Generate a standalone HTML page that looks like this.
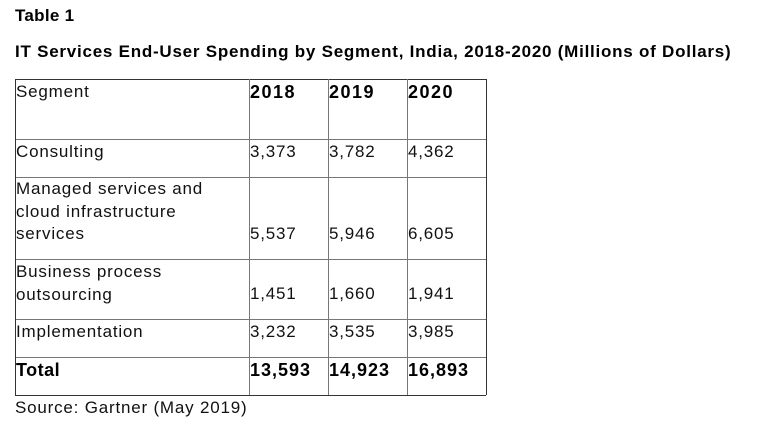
<!DOCTYPE html>
<html><head><meta charset="utf-8"><style>
body{margin:0;width:772px;height:428px;background:#fff;position:relative;overflow:hidden;font-family:"Liberation Sans",sans-serif;color:#111}
.a{position:absolute;white-space:nowrap}
.t{font-size:17px;letter-spacing:0.8px;line-height:22.5px}
.b{font-weight:bold;color:#000}
.n{font-size:18px;letter-spacing:1.5px}
.h{position:absolute;left:15px;width:471px;height:1px;background:#777}
.v{position:absolute;top:79px;height:316px;width:1px;background:#777}
</style></head><body>
<div class="a b" style="left:15px;top:6px;font-size:17px;letter-spacing:0.3px">Table 1</div>
<div class="a b" style="left:15px;top:42px;font-size:17px;letter-spacing:0.76px">IT Services End-User Spending by Segment, India, 2018-2020 (Millions of Dollars)</div>
<div>
<div class="h" style="top:79px;background:#333"></div>
<div class="h" style="top:139px"></div>
<div class="h" style="top:177px"></div>
<div class="h" style="top:259px"></div>
<div class="h" style="top:319px"></div>
<div class="h" style="top:357px"></div>
<div class="h" style="top:395px;background:#333"></div>
<div class="v" style="left:15px;background:#333"></div>
<div class="v" style="left:249px"></div>
<div class="v" style="left:328px"></div>
<div class="v" style="left:407px"></div>
<div class="v" style="left:486px;background:#333"></div>

<div class="a t" style="left:16px;top:81px">Segment</div>
<div class="a t b n" style="left:250px;top:81px">2018</div>
<div class="a t b n" style="left:329px;top:81px">2019</div>
<div class="a t b n" style="left:408px;top:81px">2020</div>

<div class="a t" style="left:16px;top:141px">Consulting</div>
<div class="a t" style="left:250px;top:141px">3,373</div>
<div class="a t" style="left:329px;top:141px">3,782</div>
<div class="a t" style="left:408px;top:141px">4,362</div>

<div class="a t" style="left:16px;top:178px">Managed services and<br>cloud infrastructure<br>services</div>
<div class="a t" style="left:250px;top:223px">5,537</div>
<div class="a t" style="left:329px;top:223px">5,946</div>
<div class="a t" style="left:408px;top:223px">6,605</div>

<div class="a t" style="left:16px;top:261px">Business process<br>outsourcing</div>
<div class="a t" style="left:250px;top:283px">1,451</div>
<div class="a t" style="left:329px;top:283px">1,660</div>
<div class="a t" style="left:408px;top:283px">1,941</div>

<div class="a t" style="left:16px;top:321px">Implementation</div>
<div class="a t" style="left:250px;top:321px">3,232</div>
<div class="a t" style="left:329px;top:321px">3,535</div>
<div class="a t" style="left:408px;top:321px">3,985</div>

<div class="a t b n" style="left:16px;top:359px;letter-spacing:0.5px">Total</div>
<div class="a t b n" style="left:250px;top:359px;letter-spacing:1px">13,593</div>
<div class="a t b n" style="left:329px;top:359px;letter-spacing:1px">14,923</div>
<div class="a t b n" style="left:408px;top:359px;letter-spacing:1px">16,893</div>
</div>
<div class="a t" style="left:15px;top:397px">Source: Gartner (May 2019)</div>
</body></html>
